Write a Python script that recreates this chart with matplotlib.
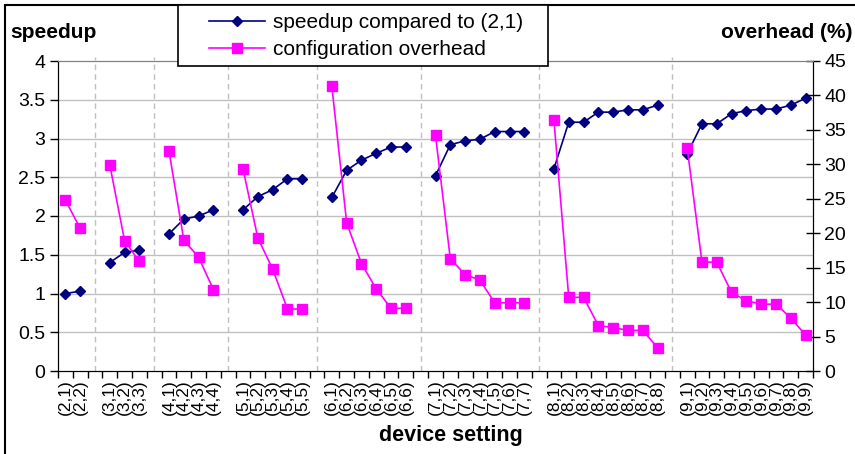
import numpy as np
import matplotlib.pyplot as plt
from matplotlib.patches import Rectangle

plt.rcParams['font.family'] = ['Liberation Sans', 'DejaVu Sans']

# device setting groups (first number) and their speedup / overhead values
groups = [2, 3, 4, 5, 6, 7, 8, 9]
speedup = [
    [1.00, 1.03],
    [1.40, 1.53, 1.56],
    [1.77, 1.96, 2.00, 2.08],
    [2.08, 2.25, 2.34, 2.48, 2.48],
    [2.24, 2.59, 2.72, 2.81, 2.89, 2.89],
    [2.52, 2.92, 2.97, 2.99, 3.09, 3.09, 3.09],
    [2.61, 3.21, 3.21, 3.34, 3.34, 3.37, 3.37, 3.43],
    [2.80, 3.19, 3.19, 3.32, 3.36, 3.38, 3.38, 3.43, 3.52],
]
overhead = [
    [24.8, 20.7],
    [29.9, 18.9, 15.9],
    [31.9, 19.0, 16.5, 11.8],
    [29.3, 19.3, 14.8, 9.0, 9.0],
    [41.3, 21.5, 15.6, 11.9, 9.1, 9.1],
    [34.2, 16.3, 14.0, 13.2, 9.9, 9.9, 9.9],
    [36.4, 10.7, 10.7, 6.6, 6.3, 5.9, 5.9, 3.4],
    [32.4, 15.8, 15.8, 11.4, 10.2, 9.7, 9.7, 7.7, 5.2],
]

# build slot series: one empty slot between groups (holds the dashed separator)
labels, sp_all, ov_all, sep_pos = [], [], [], []
for g, sp, ov in zip(groups, speedup, overhead):
    if labels:
        sep_pos.append(len(labels))
        labels.append('')
        sp_all.append(np.nan)
        ov_all.append(np.nan)
    labels += ['(%d,%d)' % (g, k + 1) for k in range(len(sp))]
    sp_all += sp
    ov_all += ov
x = np.arange(len(labels))

fig = plt.figure(figsize=(8.55, 4.54), dpi=100)
ax = fig.add_axes([58 / 855, 83 / 454, 755 / 855, 310 / 454])
ax2 = ax.twinx()

navy = '#000080'
magenta = '#ff00ff'

ax.plot(x, sp_all, color=navy, marker='D', markersize=5.5, linewidth=1.2,
        label='speedup compared to (2,1)', zorder=3)
ax2.plot(x, ov_all, color=magenta, marker='s', markersize=6.5, linewidth=1.2,
         label='configuration overhead', zorder=3)

ax.set_xlim(-0.5, len(labels) - 0.5)
ax.set_ylim(0, 4)
ax2.set_ylim(0, 45)
ax.set_yticks(np.arange(0, 4.01, 0.5))
ax.set_yticklabels(['0', '0.5', '1', '1.5', '2', '2.5', '3', '3.5', '4'])
ax2.set_yticks(np.arange(0, 46, 5))

# horizontal grid and dashed group separators
for v in np.arange(0.5, 4.0, 0.5):
    ax.axhline(v, color='#c0c0c0', linewidth=1, zorder=0)
for p in sep_pos:
    ax.plot([p, p], [0, 4.05], color='#c0c0c0', linewidth=1, linestyle=(0, (4, 3)),
            zorder=0, clip_on=False)

ax.set_xticks(x)
ax.set_xticklabels(labels, rotation=90, fontsize=12.5)
ax.set_xticks(np.arange(-0.5, len(labels), 1), minor=True)
ax.tick_params(axis='x', which='major', length=0, pad=6)
ax.tick_params(axis='x', which='minor', length=5, width=1, direction='out')
ax.tick_params(axis='y', length=6, width=1, labelsize=14, pad=3)
ax2.tick_params(axis='y', length=10, width=1, direction='inout', labelsize=14, pad=3)

for a in (ax, ax2):
    a.spines['top'].set_color('#808080')
    a.spines['left'].set_color('black')
    a.spines['right'].set_color('black')
    a.spines['bottom'].set_color('black')

fig.text(10 / 855, 1 - 32 / 454, 'speedup', fontsize=15, fontweight='bold', va='center', ha='left')
fig.text(852 / 855, 1 - 32 / 454, 'overhead (%)', fontsize=15, fontweight='bold', va='center', ha='right')
fig.text(451 / 855, 1 - 436 / 454, 'device setting', fontsize=15.5, fontweight='bold', va='center', ha='center')

# figure frame (only left and top edges visible)
fig.add_artist(Rectangle((5 / 855, -0.1), 1.2, 1.1 - 5 / 454, transform=fig.transFigure,
                         fill=False, edgecolor='black', linewidth=1.5))

# legend box drawn separately, legend itself frameless and centred in it
fig.add_artist(Rectangle((178 / 855, 1 - 66 / 454), 370 / 855, 61 / 454, transform=fig.transFigure,
                         facecolor='white', edgecolor='black', linewidth=1.2, zorder=4))
h1, l1 = ax.get_legend_handles_labels()
h2, l2 = ax2.get_legend_handles_labels()
leg = fig.legend(h1 + h2, l1 + l2, loc='center', bbox_to_anchor=(366 / 855, 1 - 36 / 454),
                 frameon=False, fontsize=15, handlelength=2.7,
                 borderaxespad=0, borderpad=0.2, labelspacing=0.4, handletextpad=0.4)
leg.set_zorder(5)

fig.savefig('out.png', dpi=100)
